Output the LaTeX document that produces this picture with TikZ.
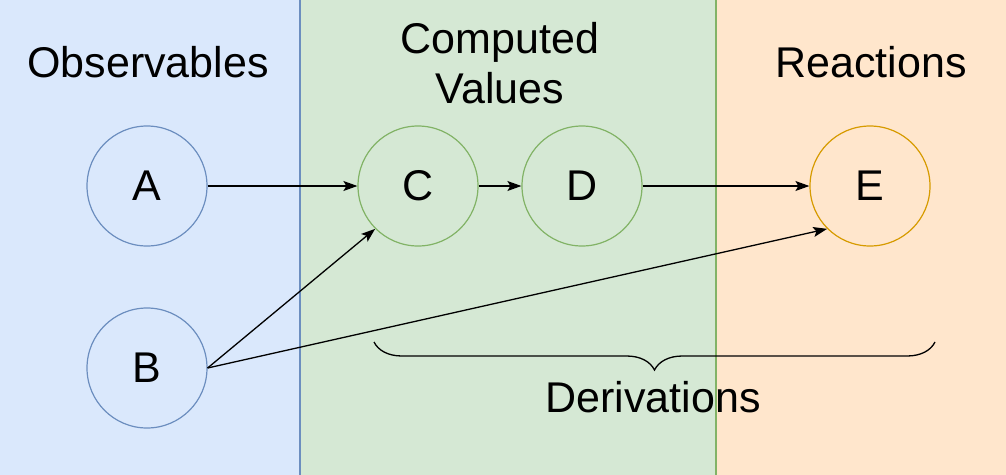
\documentclass[tikz,border=0pt]{standalone}
\usepackage{fontspec}
\setmainfont{Liberation Sans}
\usetikzlibrary{arrows.meta,decorations.pathreplacing}
\definecolor{obsfill}{HTML}{DAE8FC}
\definecolor{obsline}{HTML}{6C8EBF}
\definecolor{compfill}{HTML}{D5E8D4}
\definecolor{compline}{HTML}{82B366}
\definecolor{reacfill}{HTML}{FFE6CC}
\definecolor{reacline}{HTML}{D79B00}
\tikzset{
    obs/.style={circle,draw=obsline,minimum size=120pt,inner sep=0pt},
    comp/.style={circle,draw=compline,minimum size=120pt,inner sep=0pt},
    reac/.style={circle,draw=reacline,minimum size=120pt,inner sep=0pt},
    flow/.style={-{Stealth[length=14pt,width=10pt,inset=3pt]},line width=1.3pt}
}
\begin{document}
\begin{tikzpicture}[x=1pt,y=-1pt,font=\fontsize{43}{50}\selectfont,line width=1.2pt]
        \useasboundingbox (0,0) rectangle (1006,474);

        \filldraw[fill=reacfill,draw=reacline] (716,-5) rectangle (1012,480);
        \filldraw[fill=compfill,draw=compline] (300,-5) rectangle (716,480);
        \filldraw[fill=obsfill,draw=obsline] (-6,-5) rectangle (300,480);

        \node (obstitle) at (148,62) {Observables};
        \node[align=center] (comptitle) at (500,63) {Computed\\Values};
        \node (reactitle) at (871,62) {Reactions};

        \node[obs] (A) at (147,186) {A};
        \node[obs] (B) at (147,368) {B};
        \node[comp] (C) at (418,186) {C};
        \node[comp] (D) at (582,186) {D};
        \node[reac] (E) at (870,186) {E};

        \draw[flow] (A) -- (C);
        \draw[flow] (C) -- (D);
        \draw[flow] (D) -- (E);
        \draw[flow] (B.east) -- (C.south west);
        \draw[flow] (B.east) -- (E.south west);

        \coordinate (bl) at (374,342);
        \coordinate (br) at (935,342);
        \draw[decorate,decoration={brace,mirror,amplitude=28pt},line width=1.3pt] (bl) -- (br);
        \node (deriv) at (653,397) {Derivations};
    \end{tikzpicture}
\end{document}
